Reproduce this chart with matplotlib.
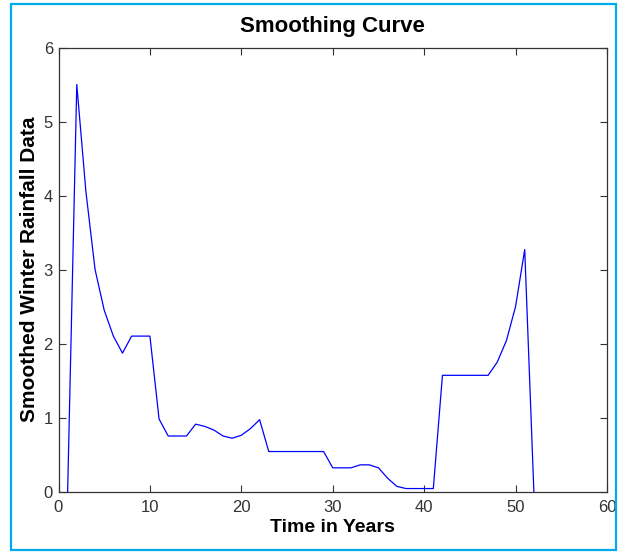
import matplotlib.pyplot as plt
from matplotlib.patches import Rectangle

# smoothed winter rainfall, one value per year
years = list(range(1, 53))
rain = [0.0, 5.5, 4.05, 3.0, 2.45, 2.1, 1.87, 2.1, 2.1, 2.1,
        0.98, 0.75, 0.75, 0.75, 0.91, 0.88, 0.83, 0.75, 0.72, 0.76,
        0.85, 0.97, 0.54, 0.54, 0.54, 0.54, 0.54, 0.54, 0.54, 0.32,
        0.32, 0.32, 0.36, 0.36, 0.32, 0.18, 0.07, 0.04, 0.04, 0.04,
        0.04, 1.57, 1.57, 1.57, 1.57, 1.57, 1.57, 1.75, 2.04, 2.5,
        3.27, 0.0]
xticks = [0, 10, 20, 30, 40, 50, 60]
yticks = [0, 1, 2, 3, 4, 5, 6]

fig = plt.figure(figsize=(6.18, 5.52), dpi=100)
ax = fig.add_axes([58.5 / 618, 1 - 491.5 / 552, (607 - 58.5) / 618, (491.5 - 47.5) / 552])

ax.plot(years, rain, color=(0, 0, 1), linewidth=0.9)
ax.set_xlim(0, 60)
ax.set_ylim(0, 6)
ax.set_xticks(xticks)
ax.set_yticks(yticks)

ax.tick_params(direction='in', length=5, width=0.8, color='#333333',
               top=True, right=True, pad=4)
ax.tick_params(axis='x', pad=6)
for lab in ax.get_xticklabels() + ax.get_yticklabels():
    lab.set_family('Liberation Sans')
    lab.set_fontsize(12)
    lab.set_color('#333333')
for s in ax.spines.values():
    s.set_color('#333333')
    s.set_linewidth(0.9)

bold = dict(family='Liberation Sans', fontweight='bold', color='black')
ax.set_title('Smoothing Curve', fontsize=16, pad=11, **bold)
ax.set_xlabel('Time in Years', fontsize=14, labelpad=3, **bold)
ax.set_ylabel('Smoothed Winter Rainfall Data', fontsize=15, labelpad=3, **bold)

# light blue frame round the whole figure
fig.patches.append(Rectangle((11 / 618, 1 - 550 / 552), (616 - 11) / 618, (550 - 4) / 552,
                             transform=fig.transFigure, fill=False,
                             edgecolor='#00aaeb', linewidth=1.6))

fig.savefig('out.png', dpi=100)
